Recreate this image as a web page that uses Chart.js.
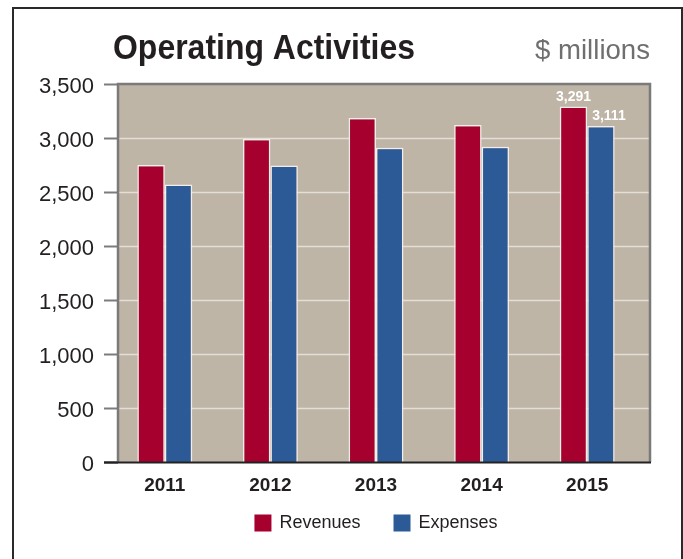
<!DOCTYPE html>
<html>
<head>
<meta charset="utf-8">
<script src="https://cdn.jsdelivr.net/npm/chart.js@4.4.1/dist/chart.umd.min.js"></script>
<style>
    html, body { margin: 0; padding: 0; background: #fff; }
    #wrap { width: 683px; height: 559px; }
</style>
</head>
<body>
<div id="wrap"><canvas id="chartOperating"></canvas></div>
<script>
const years = ["2011", "2012", "2013", "2014", "2015"];
const revenues = [2750, 2990, 3185, 3120, 3291];
const expenses = [2570, 2745, 2910, 2920, 3111];
const labeledYear = "2015";

const yMin = 0;
const yMax = 3500;
const yStep = 500;

const FONT = "'Liberation Sans', Arial, sans-serif";
const RED = "#a6002f";
const BLUE = "#2c5a97";
const PANEL = "#bfb5a7";

// draw text squeezed/stretched to a given width
function fitText(ctx, text, x, y, width) {
    const w = ctx.measureText(text).width;
    ctx.save();
    ctx.translate(x, y);
    ctx.scale(width / w, 1);
    ctx.textAlign = "left";
    ctx.fillText(text, 0, 0);
    ctx.restore();
}

const panelPlugin = {
    id: "panel",
    beforeDraw(chart) {
        const ctx = chart.ctx;
        ctx.save();
        ctx.fillStyle = "#fff";
        ctx.fillRect(0, 0, chart.width, chart.height);
        ctx.restore();
    },
    beforeDatasetsDraw(chart) {
        const {ctx, chartArea: a, scales: {y}} = chart;
        const left = a.left + 6, right = a.right + 10;
        ctx.save();
        ctx.fillStyle = PANEL;
        ctx.fillRect(left, a.top, right - left, a.bottom - a.top);
        // gridlines and outside tick marks
        for (let v = yMin; v <= yMax; v += yStep) {
            const py = Math.round(y.getPixelForValue(v)) + 0.5;
            if (v > yMin && v < yMax) {
                ctx.strokeStyle = "#e4ded6";
                ctx.lineWidth = 1.5;
                ctx.beginPath();
                ctx.moveTo(left, py);
                ctx.lineTo(right, py);
                ctx.stroke();
            }
            ctx.strokeStyle = v === yMin ? "#222" : "#7c7c7c";
            ctx.lineWidth = 2;
            ctx.beginPath();
            ctx.moveTo(left - 14, py);
            ctx.lineTo(left, py);
            ctx.stroke();
        }
        ctx.restore();
    },
    afterDatasetsDraw(chart) {
        const {ctx, chartArea: a} = chart;
        const left = a.left + 6, right = a.right + 10;
        ctx.save();
        ctx.strokeStyle = "#7a7a7a";
        ctx.lineWidth = 2.5;
        ctx.beginPath();
        ctx.moveTo(left, a.bottom);
        ctx.lineTo(left, a.top);
        ctx.lineTo(right, a.top);
        ctx.lineTo(right, a.bottom);
        ctx.stroke();
        ctx.strokeStyle = "#222";
        ctx.lineWidth = 2;
        ctx.beginPath();
        ctx.moveTo(left - 14, a.bottom + 0.5);
        ctx.lineTo(right + 1, a.bottom + 0.5);
        ctx.stroke();

        // value labels for the latest year
        const idx = chart.data.labels.indexOf(labeledYear);
        ctx.fillStyle = "#fff";
        ctx.font = "bold 14px " + FONT;
        ctx.textBaseline = "alphabetic";
        ctx.textAlign = "center";
        chart.data.datasets.forEach((ds, i) => {
            const bar = chart.getDatasetMeta(i).data[idx];
            const shift = i === 1 ? 8 : 0;
            ctx.fillText(ds.data[idx].toLocaleString("en-US"), bar.x + shift, bar.y - 6);
        });
        ctx.restore();
    },
    afterDraw(chart) {
        const {ctx, chartArea: a} = chart;
        ctx.save();
        // outer frame
        ctx.strokeStyle = "#2a2a2a";
        ctx.lineWidth = 2;
        ctx.beginPath();
        ctx.moveTo(13, chart.height + 5);
        ctx.lineTo(13, 8);
        ctx.lineTo(682, 8);
        ctx.lineTo(682, chart.height + 5);
        ctx.stroke();

        // heading
        ctx.textBaseline = "alphabetic";
        ctx.fillStyle = "#231f20";
        ctx.font = "bold 35px " + FONT;
        fitText(ctx, "Operating Activities", 113, 59, 302);
        ctx.fillStyle = "#6f6f6f";
        ctx.font = "28px " + FONT;
        fitText(ctx, "$ millions", 535, 59, 115);

        // legend
        ctx.font = "18px " + FONT;
        ctx.textBaseline = "middle";
        const box = 17, gap = 8, spacing = 33;
        const items = chart.data.datasets.map(ds => ({
            label: ds.label,
            color: ds.backgroundColor,
            w: ctx.measureText(ds.label).width
        }));
        const total = items.reduce((s, it) => s + box + gap + it.w, 0) + spacing * (items.length - 1);
        let x = (a.left + a.right) / 2 - total / 2;
        const cy = 523;
        items.forEach(it => {
            ctx.fillStyle = it.color;
            ctx.fillRect(x, cy - box / 2, box, box);
            ctx.fillStyle = "#231f20";
            ctx.textAlign = "left";
            ctx.fillText(it.label, x + box + gap, cy);
            x += box + gap + it.w + spacing;
        });
        ctx.restore();
    }
};

const ctxOperating = document.getElementById("chartOperating").getContext("2d");
const operatingChart = new Chart(ctxOperating, {
    type: "bar",
    data: {
        labels: years,
        datasets: [
            {
                label: "Revenues",
                data: revenues,
                backgroundColor: RED,
                borderColor: "#f4eeea",
                borderWidth: 1.5,
                borderSkipped: "bottom"
            },
            {
                label: "Expenses",
                data: expenses,
                backgroundColor: BLUE,
                borderColor: "#f4eeea",
                borderWidth: 1.5,
                borderSkipped: "bottom"
            }
        ]
    },
    options: {
        responsive: true,
        maintainAspectRatio: false,
        animation: false,
        datasets: {
            bar: {
                categoryPercentage: 0.52,
                barPercentage: 1.0
            }
        },
        layout: {
            padding: {top: 84, right: 43, bottom: 57, left: 0}
        },
        scales: {
            x: {
                grid: {display: false, drawTicks: false},
                border: {display: false},
                ticks: {
                    color: "#231f20",
                    font: {family: FONT, size: 19, weight: "bold"},
                    padding: 12
                },
                afterFit: (scale) => { scale.height = 40; }
            },
            y: {
                min: yMin,
                max: yMax,
                grid: {display: false, drawTicks: false},
                border: {display: false},
                ticks: {
                    stepSize: yStep,
                    color: "#231f20",
                    font: {family: FONT, size: 22},
                    padding: 18,
                    labelOffset: 3,
                    callback: (v) => v.toLocaleString("en-US")
                },
                afterFit: (scale) => { scale.width = 112; }
            }
        },
        plugins: {
            legend: {display: false},
            title: {display: false},
            tooltip: {enabled: false}
        }
    },
    plugins: [panelPlugin]
});
</script>
</body>
</html>
